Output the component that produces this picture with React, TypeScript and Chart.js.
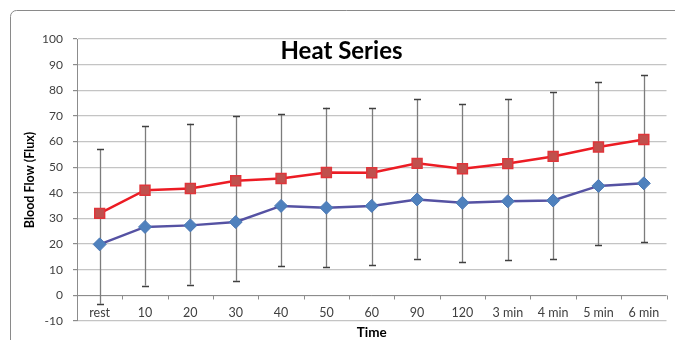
import React, { useEffect, useRef } from 'react';
import { Chart, registerables } from 'chart.js';

Chart.register(...registerables);

const categories = ['rest', '10', '20', '30', '40', '50', '60', '90', '120', '3 min', '4 min', '5 min', '6 min'];
const heatMeans = [32, 41, 41.7, 44.7, 45.6, 47.9, 47.8, 51.5, 49.4, 51.4, 54.2, 57.9, 60.8];
const heatSD = [24.9, 25.1, 25.2, 25.1, 25.1, 25.3, 25.1, 25.1, 25.1, 25.2, 25.1, 25.2, 25.1];
const baseMeans = [19.9, 26.7, 27.3, 28.6, 34.9, 34.2, 34.9, 37.4, 36.1, 36.7, 37.0, 42.7, 43.7];
const baseSD = [23.2, 22.9, 23.1, 22.9, 23.4, 23.3, 23.2, 23.1, 23.1, 22.9, 22.9, 23.1, 22.9];
const yMin = -10;
const yMax = 100;
const yStep = 10;

const chartTitle = 'Heat Series';
const yTitle = 'Blood Flow (Flux)';
const xTitle = 'Time';

const FONT = 'Lato, "Open Sans", "DejaVu Sans", sans-serif';

const decorPlugin = {
  id: 'decor',
  beforeDraw(chart: any) {
    const ctx = chart.ctx;
    ctx.save();
    ctx.strokeStyle = '#8a8a8a';
    ctx.lineWidth = 1;
    const x0 = 10.5, y0 = 10.5, r = 6;
    const w = chart.width + 20, h = chart.height + 20;
    ctx.beginPath();
    ctx.moveTo(x0, y0 + h);
    ctx.lineTo(x0, y0 + r);
    ctx.arcTo(x0, y0, x0 + r, y0, r);
    ctx.lineTo(x0 + w, y0);
    ctx.stroke();
    ctx.restore();
  },
  beforeDatasetsDraw(chart: any) {
    const ctx = chart.ctx;
    const xs = chart.scales.x;
    const ys = chart.scales.y;
    const area = chart.chartArea;
    ctx.save();
    // title inside plot
    ctx.fillStyle = '#000';
    ctx.font = `bold 24px ${FONT}`;
    ctx.textAlign = 'center';
    ctx.textBaseline = 'alphabetic';
    ctx.fillText(chartTitle, chart.width / 2 + 4, 59);

    // zero axis line with tick marks
    const yz = Math.round(ys.getPixelForValue(0)) + 0.5;
    ctx.strokeStyle = '#8c8c8c';
    ctx.lineWidth = 1;
    ctx.beginPath();
    ctx.moveTo(area.left, yz);
    ctx.lineTo(area.right, yz);
    const step = xs.getPixelForValue(1) - xs.getPixelForValue(0);
    for (let i = 0; i <= categories.length; i++) {
      const px = Math.round(xs.getPixelForValue(i) - step / 2) + 0.5;
      ctx.moveTo(px, yz);
      ctx.lineTo(px, yz + 4);
    }
    ctx.stroke();

    // error bars
    ctx.strokeStyle = '#7c7c7c';
    ctx.lineWidth = 1.3;
    ctx.beginPath();
    const caps: number[][] = [];
    for (let i = 0; i < categories.length; i++) {
      const px = Math.round(xs.getPixelForValue(i)) + 0.5;
      const top = ys.getPixelForValue(heatMeans[i] + heatSD[i]);
      const bot = ys.getPixelForValue(baseMeans[i] - baseSD[i]);
      ctx.moveTo(px, top);
      ctx.lineTo(px, bot);
      caps.push([px, Math.round(top) + 0.5], [px, Math.round(bot) + 0.5]);
    }
    ctx.stroke();
    ctx.strokeStyle = '#404040';
    ctx.lineWidth = 1.3;
    ctx.beginPath();
    caps.forEach(([px, py]) => {
      ctx.moveTo(px - 3.5, py);
      ctx.lineTo(px + 3.5, py);
    });
    ctx.stroke();
    ctx.restore();
  },
  afterDraw(chart: any) {
    const ctx = chart.ctx;
    const area = chart.chartArea;
    ctx.save();
    ctx.fillStyle = '#000';
    ctx.textAlign = 'center';
    ctx.textBaseline = 'middle';
    ctx.font = `bold 13.5px ${FONT}`;
    ctx.fillText(xTitle, (area.left + area.right) / 2, 333);
    ctx.translate(30, (area.top + area.bottom) / 2);
    ctx.rotate(-Math.PI / 2);
    ctx.font = `bold 12.5px ${FONT}`;
    ctx.fillText(yTitle, 0, 0);
    ctx.restore();
  },
};

export default function App() {
  const ref = useRef<HTMLCanvasElement>(null);
  useEffect(() => {
    if (!ref.current) return;
    const chart = new Chart(ref.current, {
      type: 'line',
      data: {
        labels: categories,
        datasets: [
          {
            label: 'Baseline',
            data: baseMeans,
            borderColor: '#5552a3',
            borderWidth: 2.5,
            pointStyle: 'rectRot',
            pointRadius: 6.5,
            pointBackgroundColor: '#4f81bd',
            pointBorderColor: '#4a78b5',
            pointBorderWidth: 1,
            tension: 0,
          },
          {
            label: 'Heat',
            data: heatMeans,
            borderColor: '#ec1c24',
            borderWidth: 2.5,
            pointStyle: 'rect',
            pointRadius: 7,
            pointBackgroundColor: '#c0504d',
            pointBorderColor: '#e0353a',
            pointBorderWidth: 1.5,
            tension: 0,
          },
        ],
      },
      options: {
        animation: false,
        responsive: false,
        devicePixelRatio: 1,
        layout: { padding: { top: 39, right: 8, left: 0, bottom: 0 } },
        plugins: { legend: { display: false }, tooltip: { enabled: false }, title: { display: false } },
        scales: {
          x: {
            type: 'category',
            offset: true,
            grid: { display: false, drawTicks: false, offset: true },
            border: { display: false },
            ticks: {
              font: { family: FONT, size: 12.5 },
              color: '#404040',
              mirror: true,
              padding: 1,
              autoSkip: false,
              maxRotation: 0,
            },
            afterFit: (s: any) => { s.height = 19; },
          },
          y: {
            min: yMin,
            max: yMax,
            grid: { color: '#c4c4c4', lineWidth: 1.2, tickColor: '#8c8c8c', tickLength: 4, drawTicks: true },
            border: { display: true, color: '#8c8c8c' },
            ticks: {
              stepSize: yStep,
              font: { family: FONT, size: 12 },
              color: '#404040',
              padding: 10,
            },
            afterFit: (s: any) => { s.width = 77; },
          },
        },
      },
      plugins: [decorPlugin],
    });
    return () => chart.destroy();
  }, []);
  return (
    <div style={{ position: 'fixed', left: 0, top: 0, width: 675, height: 340, background: '#fff' }}>
      <canvas ref={ref} width={675} height={340} style={{ display: 'block' }} />
    </div>
  );
}
